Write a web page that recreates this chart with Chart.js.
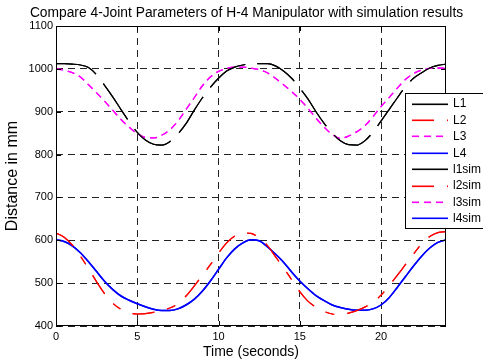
<!DOCTYPE html>
<html><head><meta charset="utf-8">
<script src="https://cdn.jsdelivr.net/npm/chart.js@4"></script>
<style>html,body{margin:0;padding:0;background:#fff}canvas{display:block}</style>
</head><body>
<canvas id="c" width="483" height="363"></canvas>
<script>
const chartTitle = 'Compare 4-Joint Parameters of H-4 Manipulator with simulation results';
const xTitle = 'Time (seconds)';
const yTitle = 'Distance in mm';
const xTickValues = [0, 5, 10, 15, 20];
const yTickValues = [400, 500, 600, 700, 800, 900, 1000, 1100];
const seriesLabels = ['L1', 'L2', 'L3', 'L4', 'l1sim', 'l2sim', 'l3sim', 'l4sim'];

const timeSec = [0,0.5,1,1.5,2,2.5,3,3.5,4,4.5,5,5.5,6,6.5,7,7.5,8,8.5,9,9.5,10,10.5,11,11.5,12,
  12.5,13,13.5,14,14.5,15,15.5,16,16.5,17,17.5,18,18.5,19,19.5,20,20.5,21,21.5,22,22.5,23,23.5,24];

const L1 = [1012,1012,1011,1009,1003,986,961,934,905,877,852,834,824,822,830,848,872,903,932,957,978,995,1004,1009,1012,
  1012,1012,1007,995,978,955,930,900,873,850,832,823,822,832,852,878,905,932,958,978,991,1002,1008,1011];
const L2 = [617,607,589,563,534,503,475,453,439,431,428,429,432,436,442,452,470,493,518,543,570,594,610,617,616,
  605,588,562,536,508,480,458,444,434,428,427,430,436,444,455,472,494,518,543,568,592,609,618,620];
const L3 = [1000,997,991,981,963,944,924,903,882,864,849,840,839,845,858,878,905,932,960,981,994,1001,1004,1004,1002,
  998,991,978,963,947,929,908,885,864,847,838,843,853,867,888,912,933,955,975,989,997,1001,1002,1001];
const L4 = [601,597,587,571,550,527,504,485,470,460,452,445,439,436,436,440,449,462,481,505,532,559,580,594,601,
  599,585,568,549,526,505,487,471,459,449,443,439,437,437,440,449,466,490,515,540,563,582,595,601];

const FONT = "'Liberation Sans', Arial, Helvetica, sans-serif";
const pts = arr => timeSec.map((t, i) => ({x: t, y: arr[i]}));

const lineColors = ['#000000', '#ff0000', '#ff00ff', '#0000ff', '#000000', '#ff0000', '#ff00ff', '#0000ff'];
const lineDashes = [[43, 12], [22, 13, 9, 13], [7, 5], [], [43, 12], [22, 13, 9, 13], [7, 5], []];
const lineWidths = [1.2, 1.2, 1.3, 1.5, 1.2, 1.2, 1.3, 1.5];
const seriesData = [L1, L2, L3, L4, L1, L2, L3, L4];

const datasets = seriesLabels.map((lab, i) => ({
  label: lab, data: pts(seriesData[i]),
  borderColor: lineColors[i], borderDash: lineDashes[i].slice(), borderWidth: lineWidths[i],
  pointRadius: 0, fill: false, cubicInterpolationMode: 'monotone'
}));

const framePlugin = {
  id: 'frame',
  afterDraw(chart) {
    const {ctx, chartArea: a, scales: {x, y}} = chart;
    ctx.save();
    ctx.setLineDash([]);
    ctx.strokeStyle = '#000';
    ctx.lineWidth = 1;
    ctx.strokeRect(a.left + 0.5, a.top + 0.5, a.right - a.left - 1, a.bottom - a.top - 1);
    ctx.beginPath();
    xTickValues.forEach(v => {
      const px = Math.round(x.getPixelForValue(v)) + 0.5;
      ctx.moveTo(px, a.bottom); ctx.lineTo(px, a.bottom - 5);
      ctx.moveTo(px, a.top); ctx.lineTo(px, a.top + 5);
    });
    yTickValues.forEach(v => {
      const py = Math.round(y.getPixelForValue(v)) + 0.5;
      ctx.moveTo(a.left, py); ctx.lineTo(a.left + 5, py);
      ctx.moveTo(a.right, py); ctx.lineTo(a.right - 5, py);
    });
    ctx.stroke();
    ctx.fillStyle = '#000';
    ctx.font = '13.8px ' + FONT;
    ctx.textAlign = 'center';
    ctx.textBaseline = 'middle';
    ctx.fillText(chartTitle, 246.5, 13);
    ctx.restore();
  }
};

const legendPlugin = {
  id: 'boxLegend',
  afterDraw(chart) {
    const ctx = chart.ctx;
    ctx.save();
    const lx = 405, ly = 93, lw = 90, lh = 135;
    ctx.fillStyle = '#ffffff';
    ctx.fillRect(lx, ly, lw, lh);
    ctx.fillStyle = '#000000';
    ctx.fillRect(lx, ly, lw, 1);
    ctx.fillRect(lx, ly + lh, lw, 1);
    ctx.fillRect(lx, ly, 1, lh + 1);
    ctx.font = '12px ' + FONT;
    ctx.textAlign = 'left';
    ctx.textBaseline = 'middle';
    for (let i = 0; i < seriesLabels.length; i++) {
      const cy = 103.5 + i * 16.4;
      const y0 = Math.round(cy) - 0.5;
      ctx.fillStyle = lineColors[i];
      const pat = lineDashes[i];
      const x0 = 412, x1 = 448;
      if (!pat.length) {
        ctx.fillRect(x0, y0, x1 - x0, 1.6);
      } else {
        let xx = x0, k = 0;
        while (xx < x1) {
          const len = pat[k % pat.length];
          if (k % 2 === 0) ctx.fillRect(xx, y0, Math.min(len, x1 - xx), 1.6);
          xx += len; k++;
        }
      }
      ctx.fillStyle = '#000000';
      ctx.fillText(seriesLabels[i], 453, cy + 0.5);
    }
    ctx.restore();
  }
};

new Chart(document.getElementById('c'), {
  type: 'line',
  data: {datasets},
  options: {
    responsive: false,
    animation: false,
    devicePixelRatio: 1,
    layout: {padding: {top: 26, right: 37, left: 0, bottom: 0}},
    plugins: {legend: {display: false}, title: {display: false}, tooltip: {enabled: false}},
    scales: {
      x: {
        type: 'linear', min: 0, max: 24,
        afterBuildTicks: s => { s.ticks = xTickValues.map(v => ({value: v})); },
        afterFit: s => { s.height = 37; },
        ticks: {font: {family: FONT, size: 11}, color: '#000', padding: 4, maxRotation: 0, callback: v => String(v)},
        grid: {color: '#222', lineWidth: 1, drawTicks: false},
        border: {display: false, dash: [7, 5]},
        title: {display: true, text: xTitle, font: {family: FONT, size: 14}, color: '#000', padding: {top: 0, bottom: 2}}
      },
      y: {
        type: 'linear', min: 400, max: 1100,
        afterBuildTicks: s => { s.ticks = yTickValues.map(v => ({value: v})); },
        afterFit: s => { s.width = 56; },
        ticks: {font: {family: FONT, size: 11}, color: '#000', padding: 3, callback: v => String(v)},
        grid: {color: '#222', lineWidth: 1, drawTicks: false},
        border: {display: false, dash: [7, 5]},
        title: {display: true, text: yTitle, font: {family: FONT, size: 16}, color: '#000', padding: {top: 3, bottom: 0}}
      }
    }
  },
  plugins: [framePlugin, legendPlugin]
});
</script>
</body></html>
